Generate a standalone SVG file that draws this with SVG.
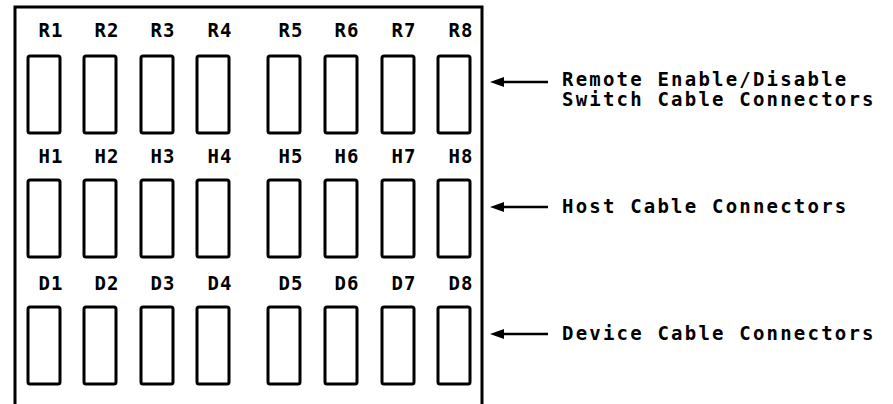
<svg xmlns="http://www.w3.org/2000/svg" width="893" height="404" viewBox="0 0 893 404">
<style>
.frame{fill:none;stroke:#000;stroke-width:3}
.conn{fill:#fff;stroke:#000;stroke-width:3}
.lbl{font-family:"DejaVu Sans Mono","Liberation Mono",monospace;font-weight:bold;font-size:19px;fill:#000;letter-spacing:1px;text-anchor:middle}
.cap{font-family:"DejaVu Sans Mono","Liberation Mono",monospace;font-weight:bold;font-size:19px;fill:#000;letter-spacing:2.2px}
.arr{stroke:#000;stroke-width:2.5;fill:none}
.head{fill:#000;stroke:none}
</style>
<defs>
<rect id="box" x="0" y="0" width="32" height="77" rx="2" class="conn"/>
</defs>
<g id="panel">
<path class="frame" d="M15,404 V7 H482 V404"/>
</g>
<g id="row-R">
<use href="#box" x="28" y="56"/><use href="#box" x="84" y="56"/><use href="#box" x="141" y="56"/><use href="#box" x="197" y="56"/>
<use href="#box" x="268" y="56"/><use href="#box" x="325" y="56"/><use href="#box" x="382" y="56"/><use href="#box" x="438" y="56"/>
<text class="lbl" x="51" y="37">R1</text><text class="lbl" x="107" y="37">R2</text><text class="lbl" x="163" y="37">R3</text><text class="lbl" x="220" y="37">R4</text>
<text class="lbl" x="291" y="37">R5</text><text class="lbl" x="347" y="37">R6</text><text class="lbl" x="404" y="37">R7</text><text class="lbl" x="461" y="37">R8</text>
</g>
<g id="row-H">
<use href="#box" x="28" y="180"/><use href="#box" x="84" y="180"/><use href="#box" x="141" y="180"/><use href="#box" x="197" y="180"/>
<use href="#box" x="268" y="180"/><use href="#box" x="325" y="180"/><use href="#box" x="382" y="180"/><use href="#box" x="438" y="180"/>
<text class="lbl" x="51" y="163">H1</text><text class="lbl" x="107" y="163">H2</text><text class="lbl" x="163" y="163">H3</text><text class="lbl" x="220" y="163">H4</text>
<text class="lbl" x="291" y="163">H5</text><text class="lbl" x="347" y="163">H6</text><text class="lbl" x="404" y="163">H7</text><text class="lbl" x="461" y="163">H8</text>
</g>
<g id="row-D">
<use href="#box" x="28" y="307"/><use href="#box" x="84" y="307"/><use href="#box" x="141" y="307"/><use href="#box" x="197" y="307"/>
<use href="#box" x="268" y="307"/><use href="#box" x="325" y="307"/><use href="#box" x="382" y="307"/><use href="#box" x="438" y="307"/>
<text class="lbl" x="51" y="290">D1</text><text class="lbl" x="107" y="290">D2</text><text class="lbl" x="163" y="290">D3</text><text class="lbl" x="220" y="290">D4</text>
<text class="lbl" x="291" y="290">D5</text><text class="lbl" x="347" y="290">D6</text><text class="lbl" x="404" y="290">D7</text><text class="lbl" x="461" y="290">D8</text>
</g>
<g id="label-remote">
<text class="cap" x="562" y="86">Remote Enable/Disable</text>
<text class="cap" x="562" y="106">Switch Cable Connectors</text>
</g>
<g id="label-host">
<text class="cap" x="562" y="213">Host Cable Connectors</text>
</g>
<g id="label-device">
<text class="cap" x="562" y="340">Device Cable Connectors</text>
</g>
<g id="connectors">
<line class="arr" x1="548" y1="82" x2="500" y2="82"/>
<polygon class="head" points="490,82 504,77 504,87"/>
<line class="arr" x1="548" y1="207" x2="500" y2="207"/>
<polygon class="head" points="490,207 504,202 504,212"/>
<line class="arr" x1="548" y1="334" x2="500" y2="334"/>
<polygon class="head" points="490,334 504,329 504,339"/>
</g>
</svg>
